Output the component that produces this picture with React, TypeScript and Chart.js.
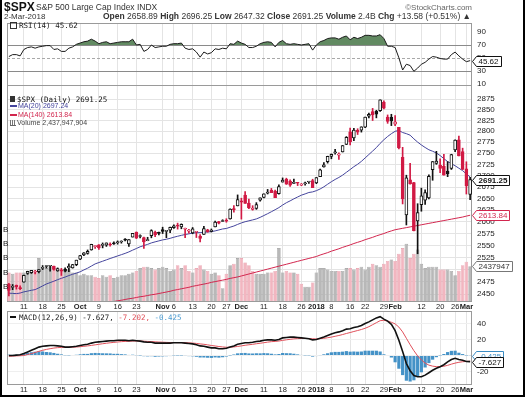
import React, { useEffect, useRef } from 'react';
import { Chart, registerables } from 'chart.js';

Chart.register(...registerables);

// ---------------- data ----------------
const dates = [
  '2017-09-05','2017-09-06','2017-09-07','2017-09-08','2017-09-11','2017-09-12','2017-09-13','2017-09-14','2017-09-15','2017-09-18','2017-09-19','2017-09-20','2017-09-21','2017-09-22','2017-09-25','2017-09-26','2017-09-27','2017-09-28','2017-09-29',
  '2017-10-02','2017-10-03','2017-10-04','2017-10-05','2017-10-06','2017-10-09','2017-10-10','2017-10-11','2017-10-12','2017-10-13','2017-10-16','2017-10-17','2017-10-18','2017-10-19','2017-10-20','2017-10-23','2017-10-24','2017-10-25','2017-10-26','2017-10-27','2017-10-30','2017-10-31',
  '2017-11-01','2017-11-02','2017-11-03','2017-11-06','2017-11-07','2017-11-08','2017-11-09','2017-11-10','2017-11-13','2017-11-14','2017-11-15','2017-11-16','2017-11-17','2017-11-20','2017-11-21','2017-11-22','2017-11-24','2017-11-27','2017-11-28','2017-11-29','2017-11-30',
  '2017-12-01','2017-12-04','2017-12-05','2017-12-06','2017-12-07','2017-12-08','2017-12-11','2017-12-12','2017-12-13','2017-12-14','2017-12-15','2017-12-18','2017-12-19','2017-12-20','2017-12-21','2017-12-22','2017-12-26','2017-12-27','2017-12-28','2017-12-29',
  '2018-01-02','2018-01-03','2018-01-04','2018-01-05','2018-01-08','2018-01-09','2018-01-10','2018-01-11','2018-01-12','2018-01-16','2018-01-17','2018-01-18','2018-01-19','2018-01-22','2018-01-23','2018-01-24','2018-01-25','2018-01-26','2018-01-29','2018-01-30','2018-01-31',
  '2018-02-01','2018-02-02','2018-02-05','2018-02-06','2018-02-07','2018-02-08','2018-02-09','2018-02-12','2018-02-13','2018-02-14','2018-02-15','2018-02-16','2018-02-20','2018-02-21','2018-02-22','2018-02-23','2018-02-26','2018-02-27','2018-02-28',
  '2018-03-01','2018-03-02',
];

const opens = [
  2470.35, 2463.83, 2468.06, 2462.25, 2474.52, 2491.94, 2493.89, 2494.56, 2495.67, 2502.51, 2506.29, 2506.84, 2507.16, 2497.26, 2499.39, 2501.04, 2503.30, 2503.41, 2509.96,
  2521.20, 2530.34, 2533.48, 2540.86, 2547.44, 2551.39, 2549.99, 2550.62, 2552.88, 2555.66, 2555.57, 2557.17, 2562.87, 2553.39, 2567.56, 2578.08, 2568.66, 2566.52, 2560.08, 2570.26, 2577.75, 2575.99,
  2583.21, 2579.46, 2581.93, 2587.47, 2592.11, 2588.71, 2584.00, 2580.18, 2576.53, 2577.75, 2569.45, 2572.95, 2582.94, 2579.49, 2589.17, 2600.31, 2600.42, 2602.66, 2605.94, 2627.82, 2633.93,
  2645.10, 2657.19, 2639.78, 2626.24, 2628.38, 2646.21, 2652.19, 2661.73, 2667.59, 2665.87, 2660.63, 2685.92, 2692.71, 2688.18, 2683.02, 2684.22, 2679.09, 2682.10, 2686.10, 2689.15,
  2683.73, 2697.85, 2719.31, 2731.33, 2742.67, 2751.15, 2745.55, 2752.97, 2770.18, 2798.96, 2784.99, 2802.40, 2802.60, 2809.16, 2835.05, 2845.42, 2846.24, 2847.48, 2867.23, 2832.74, 2832.41,
  2816.45, 2808.92, 2741.06, 2614.78, 2690.95, 2685.01, 2601.78, 2636.75, 2646.27, 2651.21, 2713.46, 2727.14, 2722.99, 2720.53, 2710.42, 2715.80, 2757.37, 2780.45, 2753.78,
  2715.22, 2658.89,
];

const highs = [
  2471.97, 2469.64, 2468.62, 2467.11, 2488.95, 2496.77, 2498.37, 2498.43, 2500.23, 2508.32, 2507.84, 2508.85, 2507.16, 2503.47, 2502.54, 2503.51, 2511.75, 2510.81, 2519.44,
  2529.23, 2535.13, 2540.53, 2552.51, 2549.41, 2551.82, 2555.23, 2555.24, 2555.33, 2557.65, 2559.47, 2559.71, 2564.11, 2562.36, 2575.44, 2578.29, 2572.18, 2567.40, 2567.07, 2582.98, 2580.03, 2578.29,
  2588.40, 2581.11, 2588.42, 2593.38, 2597.02, 2595.47, 2586.50, 2583.81, 2587.66, 2579.66, 2572.84, 2590.09, 2583.96, 2584.64, 2601.19, 2600.94, 2604.21, 2606.41, 2627.69, 2634.89, 2657.74,
  2650.62, 2665.19, 2648.72, 2634.41, 2640.99, 2651.65, 2660.33, 2669.72, 2671.88, 2668.09, 2679.63, 2694.97, 2694.44, 2691.01, 2692.64, 2685.35, 2682.74, 2685.64, 2687.66, 2692.12,
  2695.89, 2714.37, 2729.29, 2743.45, 2748.51, 2759.14, 2750.80, 2767.56, 2787.85, 2807.54, 2807.04, 2805.83, 2810.33, 2833.03, 2842.24, 2852.97, 2848.56, 2872.87, 2870.62, 2837.75, 2839.26,
  2835.96, 2808.92, 2763.39, 2701.04, 2727.67, 2685.27, 2638.67, 2672.61, 2668.84, 2702.10, 2731.51, 2754.42, 2737.60, 2747.75, 2731.26, 2747.76, 2780.64, 2789.15, 2761.52,
  2730.89, 2696.25,
];

const lows = [
  2446.55, 2459.20, 2460.29, 2459.40, 2474.52, 2490.37, 2492.14, 2491.35, 2493.16, 2499.92, 2503.19, 2496.67, 2499.00, 2496.54, 2488.03, 2495.12, 2495.91, 2502.93, 2507.99,
  2520.40, 2528.85, 2531.80, 2540.02, 2543.79, 2541.60, 2544.86, 2547.95, 2548.31, 2552.09, 2552.64, 2554.69, 2559.67, 2547.92, 2567.56, 2564.33, 2565.58, 2544.00, 2559.80, 2565.94, 2568.25, 2572.15,
  2574.92, 2566.17, 2576.77, 2585.66, 2584.35, 2585.02, 2566.33, 2575.57, 2574.48, 2566.56, 2557.45, 2572.95, 2577.62, 2578.24, 2589.17, 2595.23, 2600.42, 2598.87, 2605.44, 2620.32, 2633.93,
  2605.52, 2639.03, 2627.73, 2624.75, 2626.53, 2644.10, 2651.47, 2659.78, 2662.85, 2652.01, 2659.14, 2685.92, 2680.74, 2676.11, 2682.40, 2678.13, 2677.96, 2678.91, 2682.69, 2673.61,
  2682.36, 2697.77, 2719.07, 2727.92, 2737.60, 2747.86, 2736.06, 2752.78, 2769.64, 2768.64, 2778.38, 2792.56, 2798.08, 2808.12, 2830.59, 2824.81, 2830.94, 2846.18, 2851.48, 2818.27, 2813.04,
  2812.70, 2759.97, 2638.17, 2593.07, 2681.33, 2580.56, 2532.69, 2622.45, 2637.08, 2648.87, 2689.82, 2725.11, 2706.76, 2701.29, 2697.77, 2713.74, 2753.78, 2744.22, 2713.54,
  2659.65, 2647.32,
];

const closes = [
  2457.85, 2465.54, 2465.10, 2461.43, 2488.11, 2496.48, 2498.37, 2495.62, 2500.23, 2503.87, 2506.65, 2508.24, 2500.60, 2502.22, 2496.66, 2496.84, 2507.04, 2510.06, 2519.36,
  2529.12, 2534.58, 2537.74, 2552.07, 2549.33, 2544.73, 2550.64, 2555.24, 2550.93, 2553.17, 2557.64, 2559.36, 2561.26, 2562.10, 2575.21, 2564.98, 2569.13, 2557.15, 2560.40, 2581.07, 2572.83, 2575.26,
  2579.36, 2579.85, 2587.84, 2591.13, 2590.64, 2594.38, 2584.62, 2582.30, 2584.84, 2578.87, 2564.62, 2585.64, 2578.85, 2582.14, 2599.03, 2597.08, 2602.42, 2601.42, 2627.04, 2626.07, 2647.58,
  2642.22, 2639.44, 2629.57, 2629.27, 2636.98, 2651.50, 2659.99, 2664.11, 2662.85, 2652.01, 2675.81, 2690.16, 2681.47, 2679.25, 2684.57, 2683.34, 2680.50, 2682.62, 2687.54, 2673.61,
  2695.81, 2713.06, 2723.99, 2743.15, 2747.71, 2751.29, 2748.23, 2767.56, 2786.24, 2776.42, 2802.56, 2798.03, 2810.30, 2832.97, 2839.13, 2837.54, 2839.25, 2872.87, 2853.53, 2822.43, 2823.81,
  2821.98, 2762.13, 2648.94, 2695.14, 2681.66, 2581.00, 2619.55, 2656.00, 2662.94, 2698.63, 2731.20, 2732.22, 2716.26, 2701.33, 2703.96, 2747.30, 2779.60, 2744.28, 2713.83,
  2677.67, 2691.25,
];

// closes of the 19 sessions before the first bar (Aug 8 - Sep 1, 2017), needed for MA(20)
const priorCloses = [
  2474.92, 2474.02, 2438.21, 2441.32, 2465.84, 2464.61, 2468.11, 2430.01, 2425.55, 2428.37,
  2452.51, 2444.04, 2438.97, 2443.05, 2444.24, 2446.30, 2457.59, 2471.65, 2476.55,
];

// daily volume, billions of shares
const volumesB = [
  2.0, 1.9, 2.0, 2.0, 2.0, 2.0, 2.0, 2.0, 3.0, 2.2, 2.3, 2.4, 2.3, 2.2, 2.2, 2.1, 2.2, 2.0, 2.0,
  1.8, 1.9, 1.8, 1.8, 1.7, 1.6, 1.8, 1.7, 1.8, 1.6, 1.7, 1.8, 1.8, 1.9, 2.0, 2.1, 2.3, 2.4, 2.4, 2.3, 2.2, 2.3,
  2.4, 2.3, 2.1, 2.2, 2.5, 2.3, 2.5, 2.1, 2.0, 2.3, 2.5, 2.2, 2.1, 1.9, 2.0, 1.8, 0.9, 1.9, 2.5, 2.6, 3.0,
  3.0, 2.7, 2.5, 2.1, 1.9, 1.9, 1.9, 2.0, 2.0, 2.1, 3.7, 2.0, 2.1, 2.0, 2.0, 1.9, 1.2, 1.0, 1.0, 1.3,
  2.0, 2.3, 2.3, 2.2, 2.1, 2.1, 2.1, 2.1, 2.3, 2.3, 2.2, 2.3, 2.4, 2.2, 2.4, 2.6, 2.5, 2.4, 2.6, 2.8, 2.9,
  2.8, 3.3, 3.7, 4.0, 3.0, 3.3, 3.6, 2.6, 2.3, 2.4, 2.4, 2.4, 2.2, 2.2, 2.2, 2.1, 1.8, 2.1, 2.5,
  2.75, 2.437947904,
];

const ma140 = [
  2400, 2401, 2402, 2403.5, 2405, 2406, 2407, 2408.5, 2410, 2411, 2412, 2413.5, 2415, 2416, 2417, 2418, 2419.5, 2421, 2422,
  2423.5, 2425, 2426, 2427.5, 2429, 2430, 2431.5, 2433, 2434, 2435.5, 2437, 2438, 2439.5, 2441, 2442, 2443.5, 2445, 2446, 2447.5, 2449, 2450, 2451.5,
  2453, 2454.5, 2456, 2458, 2459.5, 2461, 2462.5, 2464, 2466, 2467.5, 2469, 2470.5, 2472, 2474, 2475.5, 2477, 2478.5, 2480, 2482, 2483.5, 2485,
  2487, 2489, 2491, 2493, 2495, 2497, 2499, 2501, 2503, 2505, 2507, 2509, 2511, 2513, 2515, 2517, 2519, 2521, 2523, 2525,
  2527, 2530, 2532.5, 2535, 2538, 2540.5, 2543, 2546, 2548.5, 2551, 2554, 2556.5, 2559, 2562, 2564.5, 2567, 2570, 2572.5, 2575, 2578, 2580.5,
  2583, 2584.5, 2586, 2587.5, 2589, 2590.5, 2592, 2593.5, 2595, 2596.5, 2598, 2599.5, 2601, 2602.5, 2604, 2605.5, 2607, 2608.5, 2610,
  2612, 2613.84,
];

const rsi14 = [
  52, 55, 55, 53, 63, 66, 67, 65, 67, 68, 69, 69, 63, 64, 60, 60, 65, 67, 71,
  73, 75, 76, 79, 76, 72, 74, 75, 72, 73, 74, 75, 75, 75, 79, 70, 71, 60, 63, 70, 66, 67,
  68, 68, 71, 72, 72, 73, 65, 63, 64, 59, 51, 59, 56, 58, 64, 63, 65, 64, 72, 71, 76,
  73, 71, 66, 66, 68, 72, 74, 75, 74, 67, 74, 77, 72, 71, 72, 71, 70, 71, 72, 62,
  70, 75, 77, 80, 81, 81, 79, 82, 84, 78, 82, 80, 82, 85, 85, 84, 84, 86, 80, 68, 68,
  66, 50, 31, 40, 38, 29, 34, 40, 43, 48, 52, 51, 49, 48, 48, 55, 59, 53, 48,
  44, 45.62,
];

const macdLine = [
  0, 0, 0.5, 1, 2.5, 4.5, 6.5, 8.5, 10.5, 11.5, 12, 12.5, 12.5, 12, 11.5, 10.5, 10.5, 11, 11.5,
  12.5, 13.5, 14, 15.5, 16.5, 17, 17.5, 18, 18.5, 18.5, 19, 19, 19, 18.5, 19, 18.5, 18, 17, 16.5, 16.5, 15.5, 15.5,
  15.5, 15.5, 15.5, 16, 16, 16, 15.5, 15, 14.5, 13.5, 12, 11.5, 10.5, 9.5, 9.5, 8.5, 8.5, 9, 10.5, 12, 14,
  15, 16, 16, 16.5, 17.5, 18, 19, 19.5, 19.5, 19, 20, 22, 22.5, 23, 23, 22.5, 22, 21.5, 21, 19.5,
  20, 21.5, 23, 25, 27, 28.5, 29.5, 31, 33, 33.5, 35, 36, 37.5, 40, 42, 44.5, 47, 48.5, 45.5, 43, 39,
  31, 19, 5, -10, -19, -25, -26.5, -26.5, -24.5, -21.5, -18.5, -16, -14, -11.5, -8, -5, -3.5, -5, -6,
  -7.5, -7.627,
];

const macdSignal = [
  -1, -0.8, -0.5, -0.3, 0, 1.2, 2.4, 3.8, 5.2, 6.5, 7.6, 8.5, 9.3, 9.8, 10.1, 10.2, 10.3, 10.4, 10.6,
  11, 11.5, 12, 12.6, 13.3, 14, 14.7, 15.3, 15.9, 16.4, 16.9, 17.3, 17.6, 17.8, 18, 18.1, 18.1, 17.9, 17.6, 17.4, 17.1, 16.8,
  16.6, 16.4, 16.2, 16.2, 16.1, 16.1, 16, 15.8, 15.5, 15.1, 14.5, 14, 13.3, 12.5, 11.9, 11.2, 10.7, 10.3, 10.4, 10.7, 11.3,
  12, 12.8, 13.4, 14, 14.7, 15.3, 16, 16.7, 17.3, 17.6, 18.1, 18.9, 19.6, 20.2, 20.8, 21.1, 21.3, 21.3, 21.2, 20.9,
  20.7, 21, 21.5, 22.2, 23, 24, 25, 26.2, 27.5, 28.7, 30, 31.2, 32.5, 34, 36, 38.5, 41, 43.5, 44, 43, 41.5,
  39.5, 35.5, 29.5, 21.5, 13.5, 6, -0.5, -5.5, -9.5, -12, -13.3, -13.9, -13.9, -13.4, -12.3, -10.8, -9.5, -8.5, -7.8,
  -7.4, -7.202,
];

const xTickDates = [
  '2017-09-11','2017-09-18','2017-09-25','2017-10-02','2017-10-09','2017-10-16','2017-10-23','2017-11-01','2017-11-06','2017-11-13','2017-11-20','2017-11-27','2017-12-01',
  '2017-12-11','2017-12-18','2017-12-26','2018-01-02','2018-01-08','2018-01-16','2018-01-22','2018-01-29','2018-02-01','2018-02-12','2018-02-20','2018-02-26','2018-03-01',
];
const xTickLabels = ['11','18','25','Oct','9','16','23','Nov','6','13','20','27','Dec','11','18','26','2018','8','16','22','29','Feb','12','20','26','Mar'];
const boldTickLabels = ['Oct', 'Nov', 'Dec', '2018', 'Feb', 'Mar'];
const priceTicks = [2450, 2475, 2500, 2525, 2550, 2575, 2600, 2625, 2650, 2675, 2700, 2725, 2750, 2775, 2800, 2825, 2850, 2875];
const rsiTicks = [10, 30, 50, 70, 90];
const macdTicks = [-20, 0, 20, 40];
const volumeTicksB = [1, 2, 3, 4, 5];

// ---------------- derived ----------------
const N = closes.length;
const LAST = N - 1;
const allCloses = [...priorCloses, ...closes];
const ma20 = closes.map((_, i) => allCloses.slice(i, i + 20).reduce((a, b) => a + b, 0) / 20);
const prevClose = (i: number) => (i === 0 ? priorCloses[priorCloses.length - 1] : closes[i - 1]);
const macdHist = macdLine.map((m, i) => m - macdSignal[i]);
const xTickIdx = xTickDates.map((d) => dates.indexOf(d));

// ---------------- layout / style ----------------
const W = 527;
const H = 399;
const PLOT_L = 7;
const PLOT_R = 472;
const AXIS_W = 50;
const RSI_TOP = 23, RSI_BOT = 85;
const MAIN_TOP = 85, MAIN_BOT = 301;
const MACD_TOP = 311, MACD_BOT = 384;
const XLAB_H = 10;

const FONT = "'Liberation Sans', Arial, Helvetica, sans-serif";
const MONO = "'DejaVu Sans Mono', 'Liberation Mono', monospace";
const TXT = '#222';
const GRID = '#e4e4e4';
const FRAME = '#9a9a9a';
const RED = '#d11a44';
const MA20_COLOR = '#44449c';
const MA140_COLOR = '#d2264e';
const RSI_FILL = 'rgb(98,138,98)';
const HIST_COLOR = 'rgba(58,140,196,0.95)';
const SIGNAL_COLOR = '#e0505a';

const candleColor = closes.map((c, i) => (c >= prevClose(i) ? '#111111' : RED));
const bodyFill = closes.map((c, i) => (c > opens[i] ? '#ffffff' : candleColor[i]));
const volFill = closes.map((c, i) => (c >= prevClose(i) ? 'rgb(184,184,184)' : 'rgb(242,182,192)'));
const volBorder = closes.map((c, i) => (c >= prevClose(i) ? 'rgb(150,150,150)' : 'rgb(228,150,164)'));

const PRICE_MIN = 2436.5, PRICE_MAX = 2908.2;
const VOL_MAX = 15.1;
const RSI_MIN = 7.7, RSI_MAX = 104.2;
const MACD_MIN = -35.6, MACD_MAX = 55.6;

const MONTHS = ['Jan','Feb','Mar','Apr','May','Jun','Jul','Aug','Sep','Oct','Nov','Dec'];
const fmtDate = (s: string) => {
  const [y, m, d] = s.split('-');
  return `${Number(d)}-${MONTHS[Number(m) - 1]}-${y}`;
};

// ---------------- plugins ----------------
const decorPlugin: any = {
  id: 'decor',
  beforeDatasetsDraw(chart: any, _a: any, opts: any) {
    const { ctx, chartArea: ca } = chart;
    ctx.save();
    (opts.hlines || []).forEach((h: any) => {
      const y = Math.round(chart.scales[h.scale].getPixelForValue(h.value)) + 0.5;
      ctx.strokeStyle = h.color;
      ctx.lineWidth = 1;
      ctx.setLineDash(h.dash || []);
      ctx.beginPath();
      ctx.moveTo(ca.left, y);
      ctx.lineTo(ca.right, y);
      ctx.stroke();
    });
    ctx.setLineDash([]);
    ctx.strokeStyle = FRAME;
    ctx.lineWidth = 1;
    ctx.strokeRect(Math.round(ca.left) + 0.5, Math.round(ca.top) + 0.5, Math.round(ca.right - ca.left) - 1, Math.round(ca.bottom - ca.top));
    ctx.restore();
  },
  afterDraw(chart: any, _a: any, opts: any) {
    const { ctx, chartArea: ca } = chart;
    ctx.save();
    if (opts.leftLabels) {
      const ll = opts.leftLabels;
      ctx.font = `8px ${FONT}`;
      ctx.fillStyle = TXT;
      ctx.textAlign = 'left';
      ctx.textBaseline = 'middle';
      ll.values.forEach((v: number) => {
        ctx.fillText(ll.text, 3, chart.scales[ll.scale].getPixelForValue(v));
      });
    }
    (opts.tags || []).forEach((t: any) => {
      const y = Math.round(chart.scales[t.scale].getPixelForValue(t.value)) + 0.5;
      ctx.font = `${t.bold ? 'bold ' : ''}8px ${FONT}`;
      const tw = ctx.measureText(t.text).width;
      const x0 = Math.round(ca.right) + 0.5;
      const x1 = x0 + 4;
      const x2 = Math.round(x1 + tw + 4) + 0.5;
      const hh = 5;
      ctx.beginPath();
      ctx.moveTo(x0, y);
      ctx.lineTo(x1, y - hh);
      ctx.lineTo(x2, y - hh);
      ctx.lineTo(x2, y + hh);
      ctx.lineTo(x1, y + hh);
      ctx.closePath();
      ctx.fillStyle = '#ffffff';
      ctx.fill();
      ctx.strokeStyle = t.border;
      ctx.lineWidth = 1;
      ctx.stroke();
      ctx.fillStyle = t.color;
      ctx.textAlign = 'left';
      ctx.textBaseline = 'middle';
      ctx.fillText(t.text, x1 + 2, y + 0.5);
    });
    ctx.restore();
  },
};

// ---------------- scale helpers ----------------
function xAxis(showLabels: boolean, height: number) {
  return {
    type: 'category',
    offset: true,
    grid: { offset: false, color: GRID, drawTicks: false, lineWidth: 1 },
    border: { display: false },
    ticks: {
      display: showLabels,
      autoSkip: false,
      maxRotation: 0,
      minRotation: 0,
      padding: 1,
      color: TXT,
      font: (c: any) => ({
        family: FONT,
        size: 7.5,
        weight: boldTickLabels.includes(xTickLabels[c.index]) ? 'bold' : 'normal',
      }),
      callback: (_v: any, i: number) => xTickLabels[i],
    },
    afterBuildTicks: (s: any) => {
      s.ticks = xTickIdx.map((v) => ({ value: v }));
    },
    afterFit: (s: any) => {
      s.height = height;
    },
  };
}

function yAxis(type: string, min: number, max: number, ticks: number[], gridColor: string) {
  return {
    type,
    position: 'right',
    min,
    max,
    bounds: 'data',
    grid: { color: gridColor, drawTicks: false },
    border: { display: false },
    ticks: {
      autoSkip: false,
      padding: 5,
      color: TXT,
      font: { family: FONT, size: 8 },
      callback: (v: any) => String(v),
    },
    afterBuildTicks: (s: any) => {
      s.ticks = ticks.map((v) => ({ value: v }));
    },
    afterFit: (s: any) => {
      s.width = AXIS_W;
    },
  };
}

function baseOptions(top: number, bottom: number) {
  return {
    responsive: false,
    animation: false,
    devicePixelRatio: 1,
    events: [],
    layout: { padding: { left: PLOT_L, right: W - PLOT_R - AXIS_W, top, bottom } },
  };
}

const noLegend = { legend: { display: false }, tooltip: { enabled: false }, title: { display: false } };

// ---------------- component ----------------
const abs = (x: number, cy: number, size: number, extra: any = {}) => ({
  position: 'absolute' as const,
  left: x,
  top: cy - size * 0.6,
  fontSize: size,
  lineHeight: `${size * 1.2}px`,
  whiteSpace: 'nowrap' as const,
  ...extra,
});

export default function App() {
  const rsiRef = useRef<HTMLCanvasElement>(null);
  const mainRef = useRef<HTMLCanvasElement>(null);
  const macdRef = useRef<HTMLCanvasElement>(null);

  useEffect(() => {
    Chart.defaults.font.family = FONT;

    const rsiChart = new Chart(rsiRef.current as HTMLCanvasElement, {
      type: 'line',
      data: {
        labels: dates,
        datasets: [
          {
            label: 'RSI(14)',
            data: rsi14,
            borderColor: '#1a1a1a',
            borderWidth: 1,
            pointRadius: 0,
            tension: 0,
            fill: { target: { value: 70 }, above: RSI_FILL, below: 'rgba(0,0,0,0)' },
          } as any,
        ],
      },
      options: {
        ...baseOptions(RSI_TOP, H - RSI_BOT),
        scales: {
          x: xAxis(false, 0),
          y: yAxis('linear', RSI_MIN, RSI_MAX, rsiTicks, 'rgba(0,0,0,0)'),
        },
        plugins: {
          ...noLegend,
          decor: {
            hlines: [
              { scale: 'y', value: 70, color: '#8a8a8a' },
              { scale: 'y', value: 30, color: '#8a8a8a' },
              { scale: 'y', value: 50, color: '#a8a8a8', dash: [3, 2] },
            ],
            tags: [{ scale: 'y', value: rsi14[LAST], text: rsi14[LAST].toFixed(2), border: '#111', color: '#111' }],
          },
        },
      } as any,
      plugins: [decorPlugin],
    });

    const mainChart = new Chart(mainRef.current as HTMLCanvasElement, {
      type: 'bar',
      data: {
        labels: dates,
        datasets: [
          {
            type: 'bar',
            label: 'Volume',
            data: volumesB,
            yAxisID: 'yv',
            backgroundColor: volFill,
            borderColor: volBorder,
            borderWidth: 0.6,
            borderSkipped: 'start',
            barPercentage: 1,
            categoryPercentage: 0.95,
            grouped: false,
            order: 10,
          },
          {
            type: 'line',
            label: 'MA(140)',
            data: ma140,
            yAxisID: 'y',
            borderColor: MA140_COLOR,
            borderWidth: 1,
            pointRadius: 0,
            order: 4,
          },
          {
            type: 'line',
            label: 'MA(20)',
            data: ma20,
            yAxisID: 'y',
            borderColor: MA20_COLOR,
            borderWidth: 1,
            pointRadius: 0,
            order: 3,
          },
          {
            type: 'bar',
            label: 'High-Low',
            data: lows.map((l, i) => [l, highs[i]]),
            yAxisID: 'y',
            backgroundColor: candleColor,
            barThickness: 1,
            grouped: false,
            order: 2,
          },
          {
            type: 'bar',
            label: 'Open-Close',
            data: opens.map((o, i) => [o, closes[i]]),
            yAxisID: 'y',
            backgroundColor: bodyFill,
            borderColor: candleColor,
            borderWidth: 1,
            borderSkipped: false,
            barThickness: 3,
            minBarLength: 1,
            grouped: false,
            order: 1,
          },
        ] as any,
      },
      options: {
        ...baseOptions(MAIN_TOP, H - MAIN_BOT - XLAB_H),
        scales: {
          x: xAxis(true, XLAB_H),
          y: yAxis('logarithmic', PRICE_MIN, PRICE_MAX, priceTicks, GRID),
          yv: { type: 'linear', display: false, min: 0, max: VOL_MAX },
        },
        plugins: {
          ...noLegend,
          decor: {
            leftLabels: { scale: 'yv', values: volumeTicksB, text: 'B' },
            tags: [
              { scale: 'yv', value: volumesB[LAST], text: String(Math.round(volumesB[LAST] * 1e9)).slice(0, 7), border: '#777', color: '#333' },
              { scale: 'y', value: ma140[LAST], text: ma140[LAST].toFixed(2), border: MA140_COLOR, color: MA140_COLOR },
              { scale: 'y', value: closes[LAST], text: closes[LAST].toFixed(2), border: '#111', color: '#111', bold: true },
            ],
          },
        },
      } as any,
      plugins: [decorPlugin],
    });

    const macdChart = new Chart(macdRef.current as HTMLCanvasElement, {
      type: 'bar',
      data: {
        labels: dates,
        datasets: [
          {
            type: 'line',
            label: 'MACD',
            data: macdLine,
            borderColor: '#111',
            borderWidth: 1.6,
            pointRadius: 0,
            order: 1,
          },
          {
            type: 'line',
            label: 'Signal',
            data: macdSignal,
            borderColor: SIGNAL_COLOR,
            borderWidth: 1,
            pointRadius: 0,
            order: 2,
          },
          {
            type: 'bar',
            label: 'Histogram',
            data: macdHist,
            backgroundColor: HIST_COLOR,
            barPercentage: 1,
            categoryPercentage: 0.85,
            order: 3,
          },
        ] as any,
      },
      options: {
        ...baseOptions(MACD_TOP, H - MACD_BOT - XLAB_H),
        scales: {
          x: xAxis(true, XLAB_H),
          y: yAxis('linear', MACD_MIN, MACD_MAX, macdTicks, '#efefef'),
        },
        plugins: {
          ...noLegend,
          decor: {
            tags: [
              { scale: 'y', value: macdHist[LAST], text: macdHist[LAST].toFixed(3), border: '#3a8cc4', color: '#3a8cc4' },
              { scale: 'y', value: macdLine[LAST], text: macdLine[LAST].toFixed(3), border: '#111', color: '#111' },
            ],
          },
        },
      } as any,
      plugins: [decorPlugin],
    });

    return () => {
      rsiChart.destroy();
      mainChart.destroy();
      macdChart.destroy();
    };
  }, []);

  const last = LAST;
  const chg = closes[last] - closes[last - 1];
  const chgPct = (chg / closes[last - 1]) * 100;
  const volStr = Math.round(volumesB[last] * 1e9).toLocaleString('en-US');
  const canvasStyle = { position: 'absolute' as const, left: 0, top: 0, width: W, height: H };

  return (
    <div
      style={{
        position: 'fixed',
        left: 0,
        top: 0,
        width: W,
        height: H,
        background: '#fff',
        overflow: 'hidden',
        fontFamily: FONT,
        color: TXT,
      }}
    >
      <canvas ref={rsiRef} width={W} height={H} style={canvasStyle} />
      <canvas ref={mainRef} width={W} height={H} style={canvasStyle} />
      <canvas ref={macdRef} width={W} height={H} style={canvasStyle} />

      {/* header */}
      <div style={abs(4, 7, 12, { fontWeight: 'bold', color: '#111' })}>$SPX</div>
      <div style={abs(36, 7.5, 8.5, { color: '#333' })}>S&amp;P 500 Large Cap Index INDX</div>
      <div style={abs(0, 7.5, 8, { left: 'auto', right: W - 472, color: '#666' })}>©StockCharts.com</div>
      <div style={abs(4, 16.5, 8, { color: '#333' })}>{fmtDate(dates[last])}</div>
      <div style={abs(0, 16.5, 8.5, { left: 'auto', right: W - 471, color: '#333' })}>
        <b>Open</b> {opens[last].toFixed(2)} <b>High</b> {highs[last].toFixed(2)} <b>Low</b> {lows[last].toFixed(2)}{' '}
        <b>Close</b> {closes[last].toFixed(2)} <b>Volume</b> {volumesB[last].toFixed(1)}B <b>Chg</b>{' '}
        {chg >= 0 ? '+' : ''}
        {chg.toFixed(2)} ({chgPct >= 0 ? '+' : ''}
        {chgPct.toFixed(2)}%) {chg >= 0 ? '▲' : '▼'}
      </div>

      {/* RSI label */}
      <div style={abs(10, 25.5, 7.5, { fontFamily: MONO, color: '#222' })}>
        <span style={{ display: 'inline-block', width: 5, height: 5, border: '1px solid #333', marginRight: 2, verticalAlign: 'middle' }} />
        RSI(14) {rsi14[last].toFixed(2)}
      </div>

      {/* main legend */}
      <div style={abs(10, 99, 7.5, { fontFamily: MONO, color: '#111' })}>
        <span style={{ display: 'inline-block', width: 5, height: 6, background: '#333', marginRight: 2, verticalAlign: 'middle' }} />
        $SPX (Daily) {closes[last].toFixed(2)}
      </div>
      <div style={abs(10, 106.5, 7, { color: MA20_COLOR })}>
        <span style={{ display: 'inline-block', width: 7, height: 2, background: MA20_COLOR, marginRight: 1, verticalAlign: 'middle' }} />
        MA(20) {ma20[last].toFixed(2)}
      </div>
      <div style={abs(10, 114.8, 7, { color: MA140_COLOR })}>
        <span style={{ display: 'inline-block', width: 7, height: 2, background: MA140_COLOR, marginRight: 1, verticalAlign: 'middle' }} />
        MA(140) {ma140[last].toFixed(2)}
      </div>
      <div style={abs(10, 123, 7, { color: '#444' })}>
        <span style={{ display: 'inline-block', width: 6, height: 5, borderBottom: '1px solid #666', background: 'repeating-linear-gradient(90deg,#777 0 1px,transparent 1px 2px)', marginRight: 1, verticalAlign: 'middle' }} />
        Volume {volStr}
      </div>

      {/* MACD label */}
      <div style={abs(10, 317, 7.5, { fontFamily: MONO, color: '#222' })}>
        <span style={{ display: 'inline-block', width: 6, height: 2, background: '#111', marginRight: 3, verticalAlign: 'middle' }} />
        MACD(12,26,9) {macdLine[last].toFixed(3)},{' '}
        <span style={{ color: SIGNAL_COLOR }}>{macdSignal[last].toFixed(3)},</span>{' '}
        <span style={{ color: '#4a9ad0' }}>{macdHist[last].toFixed(3)}</span>
      </div>

      {/* outer frame */}
      <div
        style={{
          position: 'absolute',
          left: 0,
          top: -5,
          width: 525,
          height: 402,
          border: '2px solid #000',
          boxSizing: 'border-box',
          pointerEvents: 'none',
        }}
      />
    </div>
  );
}
